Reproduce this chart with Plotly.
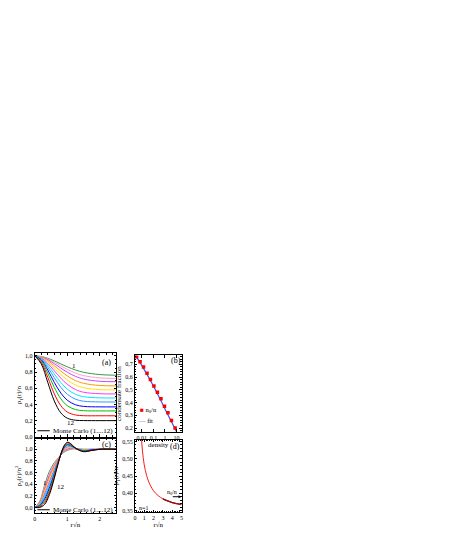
import plotly.graph_objects as go

# ---- data ----
COLORS = ['#2E9E3E', '#FF99CC', '#CC44FF', '#FF9900', '#FFE000', '#FF33FF',
          '#00E5FF', '#3399FF', '#0000FF', '#00C000', '#FF0000', '#000000']

# (a) one-body density matrix, curves 1..12
r_a = [0, 0.2, 0.4, 0.6, 0.8, 1.0, 1.25, 1.5, 2.0, 2.5]
rho1 = [
    [1.0, 0.992, 0.970, 0.938, 0.901, 0.865, 0.826, 0.797, 0.769, 0.761],
    [1.0, 0.990, 0.962, 0.922, 0.877, 0.833, 0.788, 0.756, 0.728, 0.721],
    [1.0, 0.987, 0.953, 0.903, 0.849, 0.798, 0.747, 0.714, 0.686, 0.681],
    [1.0, 0.984, 0.940, 0.878, 0.812, 0.752, 0.695, 0.661, 0.634, 0.630],
    [1.0, 0.980, 0.925, 0.849, 0.771, 0.702, 0.641, 0.606, 0.583, 0.580],
    [1.0, 0.975, 0.906, 0.816, 0.724, 0.648, 0.584, 0.551, 0.532, 0.530],
    [1.0, 0.968, 0.885, 0.776, 0.671, 0.589, 0.525, 0.496, 0.481, 0.480],
    [1.0, 0.961, 0.859, 0.730, 0.612, 0.526, 0.465, 0.440, 0.431, 0.430],
    [1.0, 0.950, 0.825, 0.672, 0.541, 0.452, 0.396, 0.376, 0.370, 0.370],
    [1.0, 0.939, 0.786, 0.610, 0.470, 0.384, 0.337, 0.323, 0.320, 0.320],
    [1.0, 0.922, 0.734, 0.532, 0.385, 0.306, 0.270, 0.261, 0.260, 0.260],
    [1.0, 0.901, 0.671, 0.443, 0.296, 0.230, 0.205, 0.201, 0.200, 0.200],
]

# (b) condensate fraction vs density
density = [0.0035, 0.007, 0.014, 0.028, 0.055, 0.11, 0.22, 0.45, 0.9, 1.8, 3.6, 7.5]
frac = [0.76, 0.72, 0.68, 0.63, 0.58, 0.53, 0.48, 0.43, 0.37, 0.32, 0.26, 0.20]
fit_x = [0.0028, 0.01, 0.1, 1, 10]
fit_y = [0.77, 0.69, 0.53, 0.35, 0.17]

# (c) pair distribution, curves 1..12
r_c = [0, 0.15, 0.3, 0.45, 0.6, 0.75, 0.9, 1.0, 1.1, 1.25, 1.5, 1.75, 2.0, 2.5]
rho2 = [
    [0, 0.10, 0.38, 0.62, 0.77, 0.87, 0.95, 0.98, 1.00, 1.01, 1.00, 1.00, 1.0, 1.0],
    [0, 0.09, 0.35, 0.58, 0.75, 0.87, 0.96, 0.99, 1.01, 1.01, 1.00, 1.00, 1.0, 1.0],
    [0, 0.08, 0.32, 0.55, 0.72, 0.86, 0.97, 1.00, 1.02, 1.01, 0.99, 1.00, 1.0, 1.0],
    [0, 0.07, 0.29, 0.51, 0.70, 0.86, 0.98, 1.02, 1.03, 1.01, 0.99, 0.99, 1.0, 1.0],
    [0, 0.06, 0.26, 0.47, 0.67, 0.85, 0.99, 1.03, 1.04, 1.01, 0.99, 0.99, 1.0, 1.0],
    [0, 0.05, 0.23, 0.44, 0.65, 0.85, 1.00, 1.04, 1.05, 1.01, 0.98, 0.99, 1.0, 1.0],
    [0, 0.05, 0.20, 0.40, 0.62, 0.84, 1.01, 1.06, 1.05, 1.02, 0.98, 0.99, 1.0, 1.0],
    [0, 0.04, 0.17, 0.36, 0.60, 0.84, 1.02, 1.07, 1.06, 1.02, 0.98, 0.99, 1.0, 1.0],
    [0, 0.03, 0.14, 0.33, 0.57, 0.83, 1.03, 1.08, 1.07, 1.02, 0.97, 0.99, 1.0, 1.0],
    [0, 0.02, 0.11, 0.29, 0.55, 0.83, 1.04, 1.09, 1.08, 1.02, 0.97, 0.98, 1.0, 1.0],
    [0, 0.01, 0.08, 0.26, 0.52, 0.82, 1.05, 1.11, 1.09, 1.02, 0.96, 0.98, 1.0, 1.0],
    [0, 0.00, 0.05, 0.22, 0.50, 0.82, 1.06, 1.12, 1.10, 1.02, 0.96, 0.98, 1.0, 1.0],
]

# (d) long-range tail, n=1 (fit in red, Monte Carlo in black at large r)
r_d = [0.7, 0.8, 1.0, 1.25, 1.5, 2.0, 2.5, 3.0, 3.5, 4.0, 4.5, 5.0]
tail = [0.56, 0.525, 0.482, 0.452, 0.432, 0.407, 0.393, 0.384, 0.378, 0.373, 0.370, 0.367]
r_mc = [3.0, 3.5, 4.0, 4.5, 5.0]
tail_mc = [0.384, 0.378, 0.373, 0.370, 0.367]

FONT = 'Liberation Serif'
W, H = 471, 542
OFF = 8  # page body margin


def px(x):
    return (x - OFF) / W


def py(y):
    return 1 - (y - OFF) / H


fig = go.Figure()

for k in range(12):
    fig.add_trace(go.Scatter(x=r_a, y=rho1[k], mode='lines', line=dict(color=COLORS[k], width=1, shape='spline'),
                             xaxis='x', yaxis='y', showlegend=False))
for k in range(12):
    fig.add_trace(go.Scatter(x=r_c, y=rho2[k], mode='lines', line=dict(color=COLORS[k], width=1, shape='spline'),
                             xaxis='x3', yaxis='y3', showlegend=False))

fig.add_trace(go.Scatter(x=fit_x, y=fit_y, mode='lines', line=dict(color='#3355FF', width=1.2, shape='spline'),
                         xaxis='x2', yaxis='y2', showlegend=False))
fig.add_trace(go.Scatter(x=density, y=frac, mode='markers', marker=dict(symbol='square', size=3.5, color='#FF0000'),
                         xaxis='x2', yaxis='y2', showlegend=False))

fig.add_trace(go.Scatter(x=r_mc, y=tail_mc, mode='lines', line=dict(color='black', width=1.4, shape='spline'),
                         xaxis='x4', yaxis='y4', showlegend=False))
fig.add_trace(go.Scatter(x=r_d, y=tail, mode='lines', line=dict(color='#FF0000', width=0.9, shape='spline'),
                         xaxis='x4', yaxis='y4', showlegend=False))

ax = dict(showline=True, linecolor='black', linewidth=1, mirror='allticks', ticks='inside', ticklen=2.5,
          tickwidth=0.8, tickcolor='black', showgrid=False, zeroline=False,
          tickfont=dict(family=FONT, size=6, color='black'),
          minor=dict(ticks='inside', ticklen=1.5, tickcolor='black', showgrid=False))
tfont = dict(family=FONT, size=7, color='black')

fig.update_layout(
    width=W, height=H, margin=dict(l=0, r=0, t=0, b=0),
    paper_bgcolor='white', plot_bgcolor='white', separators=',.',
    xaxis=dict(ax, domain=[px(33), px(115)], range=[0, 2.5], dtick=1, showticklabels=False, anchor='y'),
    yaxis=dict(ax, domain=[py(439), py(355)], range=[0, 1.03], dtick=0.2, tickformat='.1f', anchor='x',
               title=dict(text='ρ<sub>1</sub>(r)/n', font=tfont, standoff=2)),
    xaxis2=dict(ax, domain=[px(134), px(181)], type='log', range=[-2.6, 1.43], anchor='y2',
                tickvals=[0.01, 0.1, 1, 10], ticktext=['0,01', '0,1', '1', '10'],
                minor=dict(ticks=''),
                title=dict(text='density', font=tfont, standoff=0)),
    yaxis2=dict(ax, domain=[py(434), py(357)], range=[0.17, 0.77], dtick=0.1, tickformat='.1f', anchor='x2',
                title=dict(text='condensate fraction', font=tfont, standoff=2)),
    xaxis3=dict(ax, domain=[px(33), px(115)], range=[0, 2.5], dtick=1, anchor='y3',
                title=dict(text='r√n', font=tfont, standoff=0)),
    yaxis3=dict(ax, domain=[py(516), py(441)], range=[-0.1, 1.18], dtick=0.2, tickformat='.1f', anchor='x3',
                title=dict(text='ρ<sub>2</sub>(r)/n<sup>2</sup>', font=tfont, standoff=2)),
    xaxis4=dict(ax, domain=[px(134), px(181)], range=[0, 5], dtick=1, anchor='y4',
                title=dict(text='r√n', font=tfont, standoff=0)),
    yaxis4=dict(ax, domain=[py(515), py(442)], range=[0.345, 0.555], dtick=0.05, tickformat='.2f', anchor='x4',
                title=dict(text='ρ<sub>1</sub>(r)/n', font=tfont, standoff=2)),
)

afont = dict(family=FONT, size=7, color='black')
notes = [
    ('x', 'y', 2.2, 0.92, '(a)', 8, 'center'), ('x', 'y', 1.2, 0.87, '1', 7, 'center'),
    ('x', 'y', 1.1, 0.17, '12', 7, 'center'),
    ('x', 'y', 0.5, 0.075, 'Monte Carlo (1....12)', 7, 'left'),
    ('x3', 'y3', 2.2, 1.08, '(c)', 8, 'center'), ('x3', 'y3', 0.3, 0.42, '1', 7, 'center'),
    ('x3', 'y3', 0.82, 0.35, '12', 7, 'center'),
    ('x3', 'y3', 0.5, -0.04, 'Monte Carlo (1....12)', 7, 'left'),
    ('x4', 'y4', 4.3, 0.535, '(d)', 8, 'center'), ('x4', 'y4', 0.9, 0.357, 'n=1', 6, 'center'),
]
for xr, yr, x, y, t, s, xa in notes:
    fig.add_annotation(xref=xr, yref=yr, x=x, y=y, text=t, showarrow=False, xanchor=xa, font=dict(afont, size=s))

fig.add_annotation(xref='x2', yref='y2', x=0.95, y=0.73, text='(b)', showarrow=False, font=dict(afont, size=8))
fig.add_annotation(xref='x2 domain', yref='y2', x=0.06, y=0.34, xanchor='left',
                   text="<span style='color:#FF0000'>■</span> n<sub>0</sub>/n", showarrow=False, font=dict(afont, size=6.5))
fig.add_annotation(xref='x2 domain', yref='y2', x=0.02, y=0.26, xanchor='left',
                   text="<span style='color:#3355FF'>—</span> fit", showarrow=False, font=dict(afont, size=6.5))

# n0/n arrow in (d)
fig.add_annotation(xref='x4', yref='y4', x=5, y=0.39, ax=3.9, ay=0.39, axref='x4', ayref='y4',
                   showarrow=True, arrowhead=2, arrowsize=0.6, arrowwidth=1, arrowcolor='black', text='')
fig.add_annotation(xref='x4', yref='y4', x=4.0, y=0.403, text='n<sub>0</sub>/n', showarrow=False, font=dict(afont, size=6))

# legend sample lines for Monte Carlo
for xr, yr, yv in [('x', 'y', 0.075), ('x3', 'y3', -0.04)]:
    fig.add_shape(type='line', xref=xr, yref=yr, x0=0.08, x1=0.46, y0=yv, y1=yv, line=dict(color='black', width=1))

fig.write_html('out.html')
